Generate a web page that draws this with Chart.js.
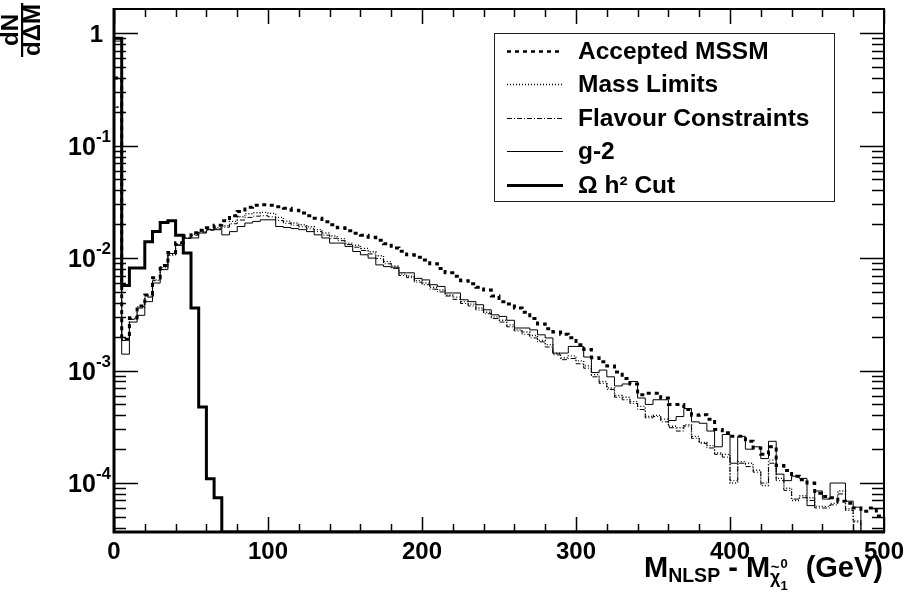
<!DOCTYPE html>
<html>
<head>
<meta charset="utf-8">
<script src="https://cdn.jsdelivr.net/npm/chart.js@4.4.1/dist/chart.umd.min.js"></script>
<style>
  html, body { margin: 0; padding: 0; background: #fff; }
  #wrap { width: 923px; height: 599px; position: relative; }
</style>
</head>
<body>
<div id="wrap"><canvas id="dmChart"></canvas></div>
<script>
// 100 bins of 5 GeV, 0..500 GeV
const binWidth = 5;
const xLow = 0, xHigh = 500;
const yLow = 3.67e-5, yHigh = 1.64;

const seriesNames = ["Accepted MSSM", "Mass Limits", "Flavour Constraints", "g-2", "\u03A9 h\u00B2 Cut"];

const accepted = [
  0.40, 1.9e-3, 2.95e-3, 3.75e-3, 4.7e-3, 6.7e-3, 8.6e-3, 1.12e-2, 1.37e-2, 1.57e-2,
  1.68e-2, 1.77e-2, 1.86e-2, 1.96e-2, 2.15e-2, 2.38e-2, 2.6e-2, 2.83e-2, 2.95e-2, 2.98e-2,
  2.95e-2, 2.86e-2, 2.78e-2, 2.67e-2, 2.52e-2, 2.38e-2, 2.26e-2, 2.11e-2, 1.98e-2, 1.86e-2,
  1.75e-2, 1.66e-2, 1.6e-2, 1.53e-2, 1.44e-2, 1.34e-2, 1.23e-2, 1.15e-2, 1.07e-2, 1.02e-2,
  9.6e-3, 8.9e-3, 8.1e-3, 7.4e-3, 6.9e-3, 6.3e-3, 5.9e-3, 5.5e-3, 5.2e-3, 4.6e-3,
  4.1e-3, 3.9e-3, 3.6e-3, 3.3e-3, 2.9e-3, 2.6e-3, 2.35e-3, 2.2e-3, 2.1e-3, 1.96e-3,
  1.7e-3, 1.54e-3, 1.3e-3, 1.2e-3, 1.1e-3, 9.7e-4, 8.5e-4, 7.6e-4, 6.1e-4, 6.3e-4,
  6.3e-4, 5.7e-4, 5.0e-4, 5.0e-4, 4.5e-4, 4.0e-4, 4.05e-4, 3.7e-4, 3.0e-4, 2.8e-4,
  2.6e-4, 2.6e-4, 2.35e-4, 2.05e-4, 1.8e-4, 2.1e-4, 1.43e-4, 1.29e-4, 1.15e-4, 1.07e-4,
  1.0e-4, 8.1e-5, 7.6e-5, 7.4e-5, 6.9e-5, 6.6e-5, 6.0e-5, 5.6e-5, 6.0e-5, 5.1e-5
];
const massLimits = [
  0.22, 1.9e-3, 2.9e-3, 3.7e-3, 4.6e-3, 6.4e-3, 8.4e-3, 1.08e-2, 1.33e-2, 1.52e-2,
  1.63e-2, 1.72e-2, 1.8e-2, 1.86e-2, 1.94e-2, 2.12e-2, 2.33e-2, 2.48e-2, 2.53e-2, 2.55e-2,
  2.5e-2, 2.3e-2, 2.13e-2, 2.05e-2, 1.98e-2, 1.9e-2, 1.79e-2, 1.67e-2, 1.57e-2, 1.49e-2,
  1.36e-2, 1.3e-2, 1.22e-2, 1.14e-2, 1.05e-2, 9.3e-3, 8.5e-3, 7.2e-3, 6.9e-3, 6.3e-3,
  6.0e-3, 5.5e-3, 5.2e-3, 4.7e-3, 4.5e-3, 4.1e-3, 3.9e-3, 3.6e-3, 3.3e-3, 3.0e-3,
  2.8e-3, 2.55e-3, 2.3e-3, 2.2e-3, 2.05e-3, 1.85e-3, 1.7e-3, 1.42e-3, 1.3e-3, 1.35e-3,
  1.22e-3, 1.1e-3, 9.2e-4, 8.0e-4, 7.0e-4, 6.0e-4, 5.8e-4, 5.3e-4, 4.8e-4, 3.9e-4,
  4.0e-4, 3.7e-4, 3.2e-4, 3.1e-4, 3.3e-4, 2.6e-4, 2.3e-4, 2.15e-4, 1.85e-4, 1.8e-4,
  1.0e-4, 1.55e-4, 1.5e-4, 1.3e-4, 9.5e-5, 1.6e-4, 1.1e-4, 9.0e-5, 7.0e-5, 7.7e-5,
  7.4e-5, 6.2e-5, 6.2e-5, 6.6e-5, 8.5e-5, 5.9e-5, 4.6e-5, 0, 0, 0
];
const flavour = [
  0.22, 1.85e-3, 2.85e-3, 3.6e-3, 4.5e-3, 6.3e-3, 8.2e-3, 1.06e-2, 1.31e-2, 1.5e-2,
  1.6e-2, 1.7e-2, 1.77e-2, 1.82e-2, 1.88e-2, 2.02e-2, 2.18e-2, 2.3e-2, 2.36e-2, 2.38e-2,
  2.33e-2, 2.16e-2, 2.04e-2, 1.96e-2, 1.9e-2, 1.82e-2, 1.72e-2, 1.6e-2, 1.5e-2, 1.43e-2,
  1.32e-2, 1.25e-2, 1.17e-2, 1.09e-2, 9.9e-3, 8.9e-3, 8.1e-3, 7.0e-3, 6.7e-3, 6.1e-3,
  5.8e-3, 5.3e-3, 5.0e-3, 4.6e-3, 4.3e-3, 3.95e-3, 3.75e-3, 3.45e-3, 3.2e-3, 2.9e-3,
  2.7e-3, 2.45e-3, 2.25e-3, 2.1e-3, 1.95e-3, 1.8e-3, 1.62e-3, 1.38e-3, 1.25e-3, 1.28e-3,
  1.15e-3, 1.05e-3, 8.8e-4, 7.7e-4, 6.8e-4, 5.8e-4, 5.5e-4, 5.1e-4, 4.5e-4, 3.8e-4,
  3.9e-4, 3.5e-4, 3.1e-4, 2.9e-4, 3.2e-4, 2.5e-4, 2.25e-4, 2.05e-4, 1.8e-4, 1.7e-4,
  1.05e-4, 1.5e-4, 1.4e-4, 1.25e-4, 1.0e-4, 1.5e-4, 1.05e-4, 8.6e-5, 7.2e-5, 7.4e-5,
  7.0e-5, 6.0e-5, 6.0e-5, 6.4e-5, 8.0e-5, 5.7e-5, 4.5e-5, 0, 0, 0
];
const gMinus2 = [
  0.85, 1.4e-3, 2.7e-3, 3.1e-3, 4.1e-3, 6.0e-3, 7.9e-3, 1.1e-2, 1.3e-2, 1.5e-2,
  1.51e-2, 1.67e-2, 1.79e-2, 1.79e-2, 1.61e-2, 1.72e-2, 1.91e-2, 2.05e-2, 2.12e-2, 2.19e-2,
  2.19e-2, 1.91e-2, 1.87e-2, 1.83e-2, 1.79e-2, 1.72e-2, 1.61e-2, 1.51e-2, 1.36e-2, 1.36e-2,
  1.27e-2, 1.145e-2, 1.07e-2, 1.0e-2, 8.7e-3, 8.4e-3, 8.3e-3, 7.4e-3, 7.4e-3, 6.6e-3,
  6.4e-3, 5.8e-3, 5.6e-3, 4.9e-3, 4.9e-3, 4.26e-3, 4.1e-3, 3.85e-3, 3.47e-3, 3.13e-3,
  3.03e-3, 2.8e-3, 2.39e-3, 2.39e-3, 2.3e-3, 2.08e-3, 1.95e-3, 1.43e-3, 1.43e-3, 1.64e-3,
  1.64e-3, 1.32e-3, 9.6e-4, 1.01e-3, 8.8e-4, 7.3e-4, 7.6e-4, 8.0e-4, 5.7e-4, 5.0e-4,
  5.5e-4, 5.5e-4, 3.6e-4, 3.9e-4, 4.6e-4, 3.5e-4, 3.4e-4, 2.9e-4, 2.1e-4, 2.7e-4,
  1.5e-4, 2.6e-4, 2.0e-4, 2.1e-4, 1.65e-4, 2.35e-4, 1.2e-4, 1.05e-4, 1.15e-4, 1.1e-4,
  6.3e-5, 8.5e-5, 7.2e-5, 1.0e-4, 1.0e-4, 6.9e-5, 6.1e-5, 0, 0, 0
];
const omegaCut = [
  0.9, 5.7e-3, 8.15e-3, 8.15e-3, 1.4e-2, 1.72e-2, 2.07e-2, 2.15e-2, 1.6e-2, 1.11e-2,
  3.6e-3, 4.74e-4, 1.09e-4, 7.4e-5, 0, 0, 0, 0, 0, 0,
  0, 0, 0, 0, 0, 0, 0, 0, 0, 0,
  0, 0, 0, 0, 0, 0, 0, 0, 0, 0,
  0, 0, 0, 0, 0, 0, 0, 0, 0, 0,
  0, 0, 0, 0, 0, 0, 0, 0, 0, 0,
  0, 0, 0, 0, 0, 0, 0, 0, 0, 0,
  0, 0, 0, 0, 0, 0, 0, 0, 0, 0,
  0, 0, 0, 0, 0, 0, 0, 0, 0, 0,
  0, 0, 0, 0, 0, 0, 0, 0, 0, 0
];

const xTickLabels = ["0", "100", "200", "300", "400", "500"];
const yTickExps = [0, -1, -2, -3, -4];

// line styles, same order as seriesNames
const lineW = [3, 1.4, 1, 1, 3];
const lineDash = [[4, 4], [1, 2], [5, 2, 1, 2], [], []];

// bin contents -> step points at low edges (empty bins sit on the axis floor)
function histPoints(vals) {
  const pts = vals.map((v, i) => ({ x: xLow + i * binWidth, y: v > 0 ? v : yLow }));
  pts.push({ x: xLow + vals.length * binWidth, y: pts[pts.length - 1].y });
  return pts;
}

const allSeries = [accepted, massLimits, flavour, gMinus2, omegaCut];
const datasets = allSeries.map((vals, k) => ({
  label: seriesNames[k],
  data: histPoints(vals),
  borderColor: "#000",
  borderWidth: lineW[k],
  borderDash: lineDash[k],
  stepped: "before",
  pointRadius: 0,
  fill: false
}));

const FONT = "'Liberation Sans', Arial, Helvetica, sans-serif";

// frame, inward ticks, labels and legend box drawn ROOT-style
const rootFrame = {
  id: "rootFrame",
  afterDraw(chart) {
    const ctx = chart.ctx;
    const xs = chart.scales.x, ys = chart.scales.y;
    const a = chart.chartArea;
    ctx.save();
    ctx.strokeStyle = "#000";
    ctx.fillStyle = "#000";

    // frame
    ctx.lineWidth = 2;
    ctx.beginPath();
    ctx.moveTo(a.left, a.top); ctx.lineTo(a.right, a.top); ctx.lineTo(a.right, a.bottom);
    ctx.stroke();
    ctx.lineWidth = 3;
    ctx.beginPath();
    ctx.moveTo(a.left, a.top - 1); ctx.lineTo(a.left, a.bottom); ctx.lineTo(a.right + 1, a.bottom);
    ctx.stroke();

    // x ticks, major every 100, minor every 20
    ctx.lineWidth = 1.5;
    ctx.beginPath();
    for (let v = xLow; v <= xHigh; v += 20) {
      const px = Math.round(xs.getPixelForValue(v)) + 0.5;
      const len = v % 100 === 0 ? 15 : 8;
      ctx.moveTo(px, a.bottom); ctx.lineTo(px, a.bottom - len);
      ctx.moveTo(px, a.top); ctx.lineTo(px, a.top + len);
    }
    ctx.stroke();

    // y ticks on a log axis
    ctx.beginPath();
    for (let e = -5; e <= 0; e++) {
      for (let k = 1; k <= 9; k++) {
        const v = k * Math.pow(10, e);
        if (v < yLow || v > yHigh) continue;
        const py = Math.round(ys.getPixelForValue(v)) + 0.5;
        const len = k === 1 ? 24 : 12;
        ctx.moveTo(a.left, py); ctx.lineTo(a.left + len, py);
        ctx.moveTo(a.right, py); ctx.lineTo(a.right - len, py);
      }
    }
    ctx.stroke();

    // x tick labels
    ctx.font = "bold 24px " + FONT;
    ctx.textAlign = "center";
    ctx.textBaseline = "alphabetic";
    xTickLabels.forEach(t => {
      ctx.fillText(t, xs.getPixelForValue(Number(t)), 559);
    });

    // y tick labels: 1, 10^-1 ...
    yTickExps.forEach(e => {
      const py = ys.getPixelForValue(Math.pow(10, e));
      if (e === 0) {
        ctx.font = "bold 24px " + FONT;
        ctx.textAlign = "right";
        ctx.fillText("1", a.left - 11, py + 9);
        return;
      }
      const sup = String(e);
      ctx.font = "bold 17px " + FONT;
      const wSup = ctx.measureText(sup).width;
      ctx.textAlign = "left";
      const right = a.left - 3;
      ctx.fillText(sup, right - wSup, py - 4);
      ctx.font = "bold 25px " + FONT;
      const w10 = ctx.measureText("10").width;
      ctx.fillText("10", right - wSup - w10, py + 9);
    });

    // y title: dN / d(Delta)M, rotated
    ctx.save();
    ctx.translate(22, 30);
    ctx.rotate(-Math.PI / 2);
    ctx.font = "bold 24px " + FONT;
    ctx.textAlign = "center";
    ctx.fillText("dN", 0, -4);
    ctx.fillText("d\u0394M", 0, 18);
    ctx.fillRect(-27, -1, 54, 2.2);
    ctx.restore();

    // x title: M_NLSP - M_chi~0_1 (GeV)
    const big = "bold 29px " + FONT, sub = "bold 19.5px " + FONT, tiny = "bold 13px " + FONT;
    const base = 577;
    ctx.textAlign = "left";
    ctx.font = big;
    const wM = ctx.measureText("M").width;
    const wDash = ctx.measureText(" - M").width;
    const wGev = ctx.measureText("(GeV)").width;
    ctx.font = sub;
    const wN = ctx.measureText("NLSP").width;
    ctx.font = "bold 18px " + FONT;
    const wChi = ctx.measureText("\u03C7").width;
    ctx.font = tiny;
    const wIdx = ctx.measureText("0").width;
    const gap = 18;
    let x = 883 - (wM + wN + wDash + wChi + wIdx + gap + wGev);
    ctx.font = big; ctx.fillText("M", x, base); x += wM;
    ctx.font = sub; ctx.fillText("NLSP", x, base + 5); x += wN;
    ctx.font = big; ctx.fillText(" - M", x, base); x += wDash;
    ctx.font = "bold 18px " + FONT; ctx.fillText("\u03C7", x, base + 6);
    ctx.font = "bold 15px " + FONT; ctx.textAlign = "center";
    ctx.fillText("~", x + wChi / 2, base - 5);
    ctx.textAlign = "left";
    x += wChi;
    ctx.font = tiny; ctx.fillText("0", x, base - 9); ctx.fillText("1", x, base + 13);
    x += wIdx + gap;
    ctx.font = big; ctx.fillText("(GeV)", x, base);

    // legend box
    ctx.lineWidth = 1;
    ctx.strokeStyle = "#222";
    ctx.setLineDash([]);
    ctx.strokeRect(494.5, 33.5, 340, 168);
    ctx.font = "bold 24.5px " + FONT;
    ctx.textAlign = "left";
    chart.data.datasets.forEach((ds, k) => {
      const cy = 50.5 + k * 33.5;
      ctx.strokeStyle = "#000";
      ctx.lineWidth = k === 0 ? 2.5 : ds.borderWidth;
      ctx.setLineDash(ds.borderDash);
      ctx.beginPath();
      ctx.moveTo(507, Math.round(cy) + 0.5); ctx.lineTo(563, Math.round(cy) + 0.5);
      ctx.stroke();
      ctx.setLineDash([]);
      ctx.fillText(ds.label, 578, cy + 8);
    });
    ctx.restore();
  }
};

new Chart("dmChart", {
  type: "line",
  data: { datasets: datasets },
  options: {
    responsive: true,
    maintainAspectRatio: false,
    animation: false,
    layout: { padding: { left: 114, top: 9, right: 39, bottom: 67 } },
    plugins: { legend: { display: false }, tooltip: { enabled: false } },
    scales: {
      x: { type: "linear", min: xLow, max: xHigh, display: false },
      y: { type: "logarithmic", min: yLow, max: yHigh, display: false }
    }
  },
  plugins: [rootFrame]
});
</script>
</body>
</html>
